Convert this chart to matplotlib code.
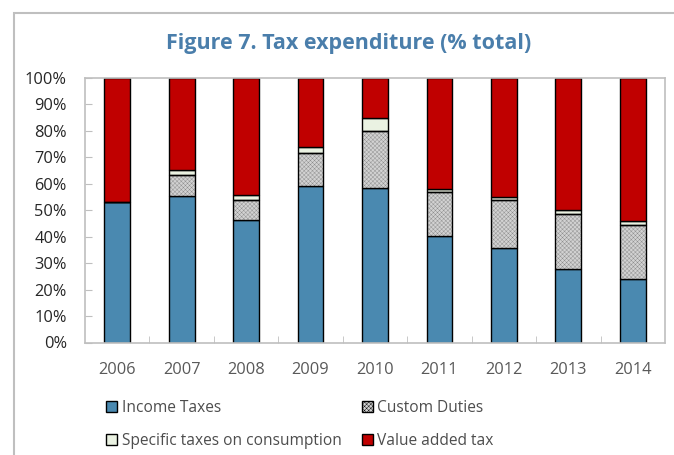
import numpy as np
import matplotlib
matplotlib.use("Agg")
import matplotlib.pyplot as plt
from matplotlib.patches import Rectangle

plt.rcParams['font.family'] = ['Open Sans', 'DejaVu Sans']
plt.rcParams['hatch.linewidth'] = 0.3

# Tax expenditure shares (% of total)
years = ['2006', '2007', '2008', '2009', '2010', '2011', '2012', '2013', '2014']
income = [53.2, 55.3, 46.3, 59.0, 58.3, 40.3, 35.6, 27.7, 24.0]
custom = [0.0, 8.1, 7.5, 12.8, 21.6, 16.5, 18.2, 20.9, 20.5]
specific = [0.0, 1.8, 1.9, 2.0, 5.0, 1.3, 1.3, 1.6, 1.6]
vat = [46.8, 34.8, 44.3, 26.2, 15.1, 41.9, 44.9, 49.8, 53.9]

fig = plt.figure(figsize=(6.74, 4.55), dpi=100)
fig.patch.set_facecolor('white')

# outer chart frame
fig.add_artist(Rectangle((14 / 674, -0.1), 1.0, 1 - 13 / 455 + 0.1,
                         transform=fig.transFigure, fill=False,
                         edgecolor='#BFBFBF', lw=1.5))

ax = fig.add_axes([85 / 674, 1 - 342.5 / 455, 580 / 674, (342.5 - 78) / 455])

x = np.arange(len(years))
w = 0.4
inc = np.array(income) / 100
cus = np.array(custom) / 100
spe = np.array(specific) / 100
va = np.array(vat) / 100

b1 = ax.bar(x, inc, w, color='#4A89B0', edgecolor='black', lw=1.0,
            label='Income Taxes')
b2 = ax.bar(x, cus, w, bottom=inc, color='#D2D2D2', edgecolor='#8C8C8C',
            lw=0.0, hatch='xxxxxxxx', label='Custom Duties')
b3 = ax.bar(x, spe, w, bottom=inc + cus, color='#EAF2E2', edgecolor='black',
            lw=1.0, label='Specific taxes on consumption')
b4 = ax.bar(x, va, w, bottom=inc + cus + spe, color='#C00000',
            edgecolor='black', lw=1.0, label='Value added tax')
# black outline over the hatched customs segments
ax.bar(x, cus, w, bottom=inc, fill=False, edgecolor='black', lw=1.0)

ax.set_xlim(-0.5, len(years) - 0.5)
ax.set_ylim(0, 1)
ax.set_yticks(np.arange(0, 1.01, 0.1))
ax.set_yticklabels([f'{int(round(v * 100))}%' for v in np.arange(0, 1.01, 0.1)])
ax.set_xticks(x)
ax.set_xticklabels(years)
ax.set_xticks(np.arange(0.5, len(years) - 1, 1), minor=True)

for s in ax.spines.values():
    s.set_color('#BFBFBF')
    s.set_linewidth(1.2)

ax.tick_params(axis='y', direction='in', length=5, color='#BFBFBF',
               labelsize=11.8, labelcolor='#262626', pad=13)
ax.tick_params(axis='x', which='major', length=0, labelsize=11.8,
               labelcolor='#595959', pad=14)
ax.tick_params(axis='x', which='minor', direction='in', length=5,
               color='#BFBFBF')

fig.text(349 / 674, 1 - 43 / 455, 'Figure 7. Tax expenditure (% total)',
         ha='center', va='center', fontsize=15.5, fontweight='bold',
         color='#4A7EAB')

# legend: row-wise order -> pass column-major
leg = fig.legend([b1, b3, b2, b4],
                 ['Income Taxes', 'Specific taxes on consumption',
                  'Custom Duties', 'Value added tax'],
                 ncol=2, loc='upper left',
                 bbox_to_anchor=(100 / 674, 1 - 394 / 455),
                 frameon=False, fontsize=11.2, handlelength=0.7,
                 handleheight=0.7, handletextpad=0.3, columnspacing=1.3,
                 labelspacing=1.1, borderaxespad=0)
for t in leg.get_texts():
    t.set_color('#4D4D4D')
# legend key outlines
for h in leg.legend_handles:
    h.set_edgecolor('black')
    h.set_linewidth(1.0)

fig.savefig('out.png', dpi=100, facecolor='white')
